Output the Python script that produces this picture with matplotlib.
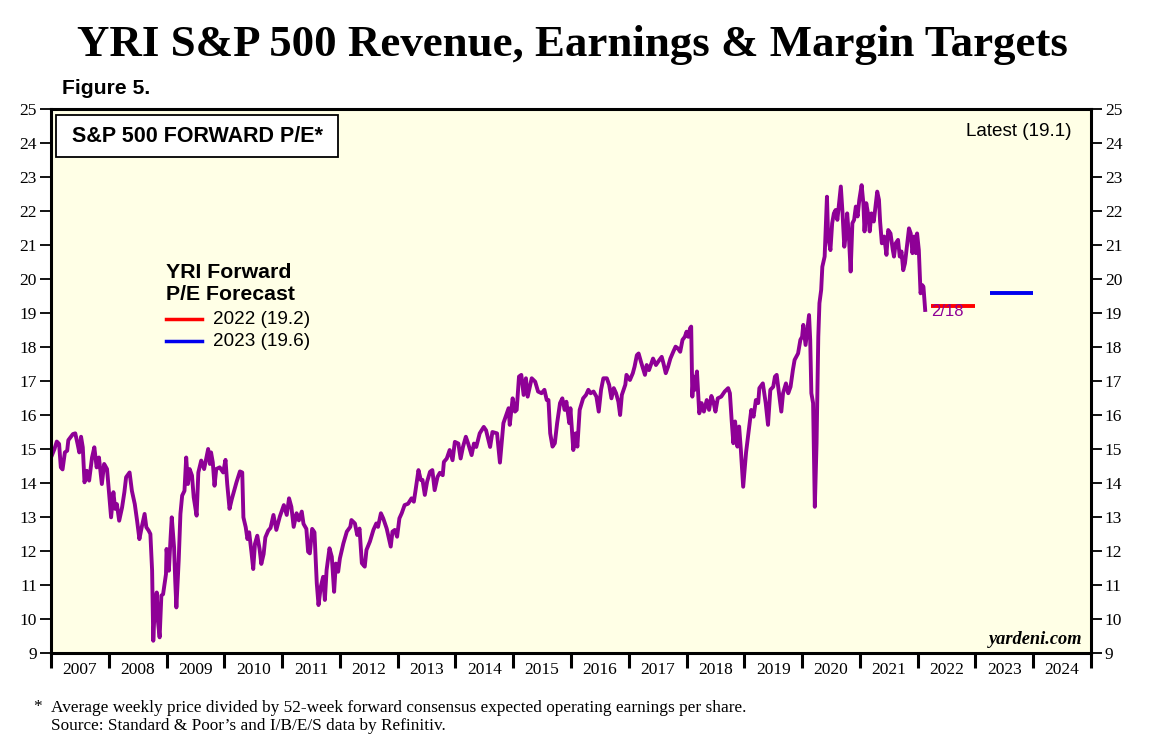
import matplotlib.pyplot as plt
from matplotlib.patches import Rectangle
import numpy as np

# weekly-ish S&P 500 forward P/E (decimal years)
dates = [
    2007.00, 2007.06, 2007.10, 2007.14, 2007.17, 2007.20, 2007.24, 2007.28, 2007.30, 2007.38,
    2007.42, 2007.46, 2007.49, 2007.52, 2007.55, 2007.58, 2007.62, 2007.66, 2007.71, 2007.75,
    2007.79, 2007.83, 2007.88, 2007.92, 2007.97, 2008.01, 2008.04, 2008.08, 2008.11, 2008.14,
    2008.18, 2008.23, 2008.27, 2008.30, 2008.36, 2008.40, 2008.45, 2008.49, 2008.53, 2008.57,
    2008.62, 2008.65, 2008.69, 2008.72, 2008.75, 2008.77, 2008.79, 2008.83, 2008.85, 2008.88,
    2008.91, 2008.94, 2008.99, 2009.00, 2009.04, 2009.07, 2009.09, 2009.13, 2009.15, 2009.17,
    2009.21, 2009.24, 2009.27, 2009.31, 2009.34, 2009.37, 2009.40, 2009.44, 2009.47, 2009.52,
    2009.55, 2009.60, 2009.65, 2009.69, 2009.72, 2009.75, 2009.77, 2009.80, 2009.83, 2009.86,
    2009.92, 2009.98, 2010.02, 2010.05, 2010.09, 2010.13, 2010.17, 2010.21, 2010.27, 2010.31,
    2010.33, 2010.37, 2010.40, 2010.43, 2010.47, 2010.50, 2010.53, 2010.57, 2010.61, 2010.64,
    2010.68, 2010.71, 2010.76, 2010.80, 2010.85, 2010.90, 2010.96, 2011.03, 2011.08, 2011.12,
    2011.16, 2011.20, 2011.25, 2011.29, 2011.34, 2011.37, 2011.42, 2011.45, 2011.48, 2011.52,
    2011.56, 2011.60, 2011.63, 2011.67, 2011.71, 2011.74, 2011.77, 2011.82, 2011.86, 2011.90,
    2011.93, 2011.97, 2012.00, 2012.06, 2012.12, 2012.18, 2012.20, 2012.26, 2012.30, 2012.34,
    2012.38, 2012.43, 2012.46, 2012.52, 2012.58, 2012.63, 2012.66, 2012.71, 2012.75, 2012.81,
    2012.88, 2012.91, 2012.95, 2012.99, 2013.03, 2013.07, 2013.12, 2013.18, 2013.24, 2013.28,
    2013.31, 2013.36, 2013.40, 2013.43, 2013.47, 2013.51, 2013.56, 2013.60, 2013.64, 2013.69,
    2013.73, 2013.78, 2013.80, 2013.85, 2013.90, 2013.95, 2013.99, 2014.05, 2014.09, 2014.13,
    2014.18, 2014.22, 2014.28, 2014.32, 2014.36, 2014.42, 2014.49, 2014.53, 2014.60, 2014.64,
    2014.72, 2014.77, 2014.80, 2014.83, 2014.89, 2014.92, 2014.94, 2014.99, 2015.03, 2015.06,
    2015.10, 2015.14, 2015.18, 2015.22, 2015.25, 2015.32, 2015.38, 2015.43, 2015.49, 2015.54,
    2015.58, 2015.61, 2015.64, 2015.68, 2015.72, 2015.76, 2015.81, 2015.85, 2015.89, 2015.92,
    2015.97, 2015.99, 2016.04, 2016.08, 2016.11, 2016.15, 2016.21, 2016.26, 2016.30, 2016.34,
    2016.39, 2016.44, 2016.48, 2016.52, 2016.56, 2016.62, 2016.66, 2016.70, 2016.74, 2016.78,
    2016.82, 2016.85, 2016.88, 2016.94, 2016.96, 2017.02, 2017.07, 2017.10, 2017.14, 2017.17,
    2017.21, 2017.28, 2017.31, 2017.35, 2017.39, 2017.42, 2017.47, 2017.53, 2017.57, 2017.60,
    2017.64, 2017.68, 2017.72, 2017.77, 2017.81, 2017.85, 2017.89, 2017.93, 2017.97, 2018.00,
    2018.03, 2018.06, 2018.08, 2018.10, 2018.12, 2018.14, 2018.18, 2018.22, 2018.26, 2018.30,
    2018.35, 2018.39, 2018.43, 2018.47, 2018.50, 2018.54, 2018.60, 2018.66, 2018.72, 2018.75,
    2018.78, 2018.81, 2018.84, 2018.88, 2018.91, 2018.94, 2018.98, 2019.03, 2019.07, 2019.12,
    2019.16, 2019.20, 2019.24, 2019.26, 2019.32, 2019.37, 2019.41, 2019.45, 2019.50, 2019.53,
    2019.56, 2019.60, 2019.64, 2019.67, 2019.72, 2019.76, 2019.80, 2019.84, 2019.87, 2019.93,
    2019.97, 2020.00, 2020.02, 2020.06, 2020.09, 2020.12, 2020.14, 2020.16, 2020.19, 2020.22,
    2020.25, 2020.28, 2020.30, 2020.33, 2020.35, 2020.39, 2020.41, 2020.43, 2020.45, 2020.49,
    2020.52, 2020.55, 2020.58, 2020.61, 2020.64, 2020.67, 2020.70, 2020.73, 2020.76, 2020.78,
    2020.81, 2020.84, 2020.87, 2020.90, 2020.93, 2020.96, 2020.99, 2021.03, 2021.06, 2021.08,
    2021.11, 2021.14, 2021.17, 2021.20, 2021.24, 2021.30, 2021.33, 2021.35, 2021.38, 2021.42,
    2021.46, 2021.49, 2021.53, 2021.57, 2021.59, 2021.62, 2021.66, 2021.69, 2021.72, 2021.75,
    2021.78, 2021.82, 2021.85, 2021.88, 2021.91, 2021.94, 2021.97, 2021.99, 2022.02, 2022.05,
    2022.08, 2022.10, 2022.13,
]
pe = [
    14.75, 15.00, 15.22, 15.15, 14.46, 14.40, 14.90, 14.95, 15.26, 15.44,
    15.46, 15.15, 14.90, 15.36, 15.05, 14.02, 14.36, 14.07, 14.75, 15.05,
    14.46, 14.75, 13.97, 14.56, 14.41, 13.58, 12.99, 13.73, 13.24, 13.38,
    12.89, 13.28, 13.73, 14.17, 14.31, 13.77, 13.38, 12.89, 12.35, 12.70,
    13.09, 12.70, 12.60, 12.50, 11.42, 9.36, 10.15, 10.78, 9.95, 9.46,
    10.69, 10.73, 11.32, 12.06, 11.42, 12.40, 12.99, 12.11, 11.13, 10.34,
    11.72, 13.09, 13.63, 13.77, 14.75, 13.97, 14.41, 14.22, 13.58, 13.04,
    14.31, 14.66, 14.41, 14.75, 15.00, 14.56, 14.90, 14.61, 13.92, 14.41,
    14.46, 14.31, 14.68, 13.97, 13.24, 13.53, 13.77, 14.02, 14.34, 14.31,
    12.99, 12.70, 12.35, 12.55, 11.96, 11.47, 12.21, 12.45, 12.06, 11.62,
    11.91, 12.40, 12.60, 12.68, 13.06, 12.62, 13.01, 13.35, 13.06, 13.55,
    13.30, 12.71, 13.11, 12.90, 13.16, 12.80, 12.65, 11.98, 11.93, 12.65,
    12.55, 11.05, 10.41, 10.95, 11.24, 10.56, 11.44, 12.08, 11.83, 10.80,
    11.63, 11.39, 11.78, 12.22, 12.57, 12.71, 12.91, 12.81, 12.47, 12.66,
    11.64, 11.54, 12.03, 12.28, 12.62, 12.81, 12.71, 13.11, 12.96, 12.66,
    12.13, 12.57, 12.62, 12.42, 12.96, 13.11, 13.35, 13.39, 13.55, 13.45,
    13.79, 14.38, 14.09, 14.09, 13.65, 14.04, 14.33, 14.38, 13.79, 14.18,
    14.30, 14.23, 14.62, 14.72, 14.97, 14.67, 15.21, 15.16, 14.72, 15.06,
    15.36, 15.16, 14.82, 15.16, 15.06, 15.46, 15.65, 15.55, 15.06, 15.50,
    15.46, 14.60, 15.17, 15.76, 16.05, 16.20, 15.71, 16.49, 16.10, 16.15,
    17.13, 17.18, 16.59, 17.08, 16.54, 17.08, 16.98, 16.69, 16.64, 16.74,
    16.44, 16.44, 15.46, 15.07, 15.17, 15.76, 16.35, 16.49, 16.15, 16.39,
    15.76, 16.20, 14.97, 15.46, 15.07, 16.15, 16.49, 16.59, 16.74, 16.64,
    16.69, 16.54, 16.10, 16.74, 17.08, 17.08, 16.89, 16.49, 16.79, 16.64,
    16.39, 16.00, 16.59, 16.89, 17.18, 17.03, 17.23, 17.42, 17.76, 17.81,
    17.57, 17.18, 17.47, 17.32, 17.52, 17.66, 17.47, 17.62, 17.71, 17.52,
    17.23, 17.42, 17.66, 17.86, 18.01, 17.96, 17.86, 18.21, 18.30, 18.45,
    18.30, 18.55, 18.60, 16.54, 17.13, 16.74, 17.28, 16.05, 16.35, 16.10,
    16.44, 16.15, 16.56, 16.35, 16.10, 16.49, 16.54, 16.69, 16.79, 16.64,
    15.86, 15.17, 15.81, 15.07, 15.66, 14.97, 13.89, 14.90, 15.46, 16.15,
    15.95, 16.44, 16.35, 16.79, 16.93, 16.35, 15.71, 16.74, 16.83, 17.13,
    17.18, 16.64, 16.10, 16.64, 16.93, 16.64, 16.83, 17.32, 17.62, 17.81,
    18.21, 18.30, 18.65, 18.06, 18.50, 18.94, 18.21, 16.64, 16.35, 13.30,
    15.17, 18.30, 19.29, 19.68, 20.36, 20.66, 21.54, 22.42, 21.25, 20.85,
    21.64, 21.93, 22.03, 21.74, 22.23, 22.72, 21.93, 20.95, 21.34, 21.93,
    21.25, 20.22, 21.64, 21.74, 22.13, 21.84, 22.33, 22.76, 22.23, 21.40,
    22.23, 21.93, 21.40, 21.93, 21.69, 22.57, 22.33, 21.69, 21.05, 21.25,
    20.71, 21.44, 21.34, 20.85, 20.66, 21.05, 21.15, 20.66, 20.81, 20.26,
    20.46, 21.05, 21.49, 21.34, 20.76, 21.25, 20.76, 21.34, 20.85, 19.58,
    19.82, 19.77, 19.09,
]

# YRI forecasts
forecast_labels = ['2022 (19.2)', '2023 (19.6)']
forecast_values = [19.2, 19.6]
forecast_spans = [(2022.23, 2023.0), (2023.25, 2024.0)]
forecast_colors = ['#ff0000', '#0000ee']

years = list(range(2007, 2025))
yticks = list(range(9, 26))

purple = '#8e0096'

fig = plt.figure(figsize=(11.51, 7.44), dpi=100)
ax = fig.add_axes([51/1151, 1 - 653/744, 1040/1151, 544/744])
ax.set_facecolor('#ffffe6')

ax.plot(dates, pe, color=purple, lw=2.8, solid_joinstyle='round')
for (x0, x1), v, c in zip(forecast_spans, forecast_values, forecast_colors):
    ax.plot([x0, x1], [v, v], color=c, lw=2.8, solid_capstyle='butt')

ax.text(dates[-1] + 0.1, pe[-1] - 0.05, '2/18', color=purple, fontsize=12,
        ha='left', va='center', family='Liberation Sans')

ax.set_xlim(2007, 2025)
ax.set_ylim(9, 25)

# x axis: year boundaries as ticks, labels centred in each year
ax.set_xticks(range(2007, 2026))
ax.set_xticklabels([])
ax.set_xticks([y + 0.5 for y in years], minor=True)
ax.set_xticklabels([str(y) for y in years], minor=True,
                   family='Liberation Serif', fontsize=12.5)
ax.tick_params(axis='x', which='major', direction='out', length=11, width=2.2)
ax.tick_params(axis='x', which='minor', length=0, pad=6.5)

ax.set_yticks(yticks)
ax.set_yticklabels([str(t) for t in yticks], family='Liberation Serif', fontsize=12.5)
ax.tick_params(axis='y', which='both', direction='out', length=8, width=1.3,
               left=True, right=True, labelleft=True, labelright=True, pad=2)

for s in ax.spines.values():
    s.set_linewidth(2.2)

# title box
ax.add_patch(Rectangle((5/1040, (653-157)/544), 282/1040, 42/544,
                       transform=ax.transAxes, facecolor='white',
                       edgecolor='black', lw=1.3, zorder=5))
ax.text((197-51)/1040, (653-136)/544, 'S&P 500 FORWARD P/E*',
        transform=ax.transAxes, ha='center', va='center', fontsize=15.5,
        fontweight='bold', family='Liberation Sans', zorder=6)

ax.text((1072-51)/1040, (653-132)/544, 'Latest (19.1)', transform=ax.transAxes,
        ha='right', va='center', fontsize=13.6, family='Liberation Sans')

# forecast legend
ax.text((166-51)/1040, (653-272)/544, 'YRI Forward', transform=ax.transAxes,
        ha='left', va='center', fontsize=15.3, fontweight='bold', family='Liberation Sans')
ax.text((166-51)/1040, (653-294)/544, 'P/E Forecast', transform=ax.transAxes,
        ha='left', va='center', fontsize=15.3, fontweight='bold', family='Liberation Sans')
for i, (lab, c) in enumerate(zip(forecast_labels, forecast_colors)):
    yy = (653 - 319 - 22*i)/544
    ax.plot([(166-51)/1040, (202-51)/1040], [yy, yy], transform=ax.transAxes,
            color=c, lw=2.5)
    ax.text((213-51)/1040, yy, lab, transform=ax.transAxes, ha='left', va='center',
            fontsize=13.6, family='Liberation Sans')

ax.text((1082-51)/1040, (653-640)/544, 'yardeni.com', transform=ax.transAxes,
        ha='right', va='center', fontsize=13.2, fontweight='bold', style='italic',
        family='Liberation Serif')

fig.text(572/1151, 1 - 45/744, 'YRI S&P 500 Revenue, Earnings & Margin Targets',
         ha='center', va='center', fontsize=32.3, fontweight='bold', family='Liberation Serif')
fig.text(62/1151, 1 - 88/744, 'Figure 5.', ha='left', va='center', fontsize=15.2,
         fontweight='bold', family='Liberation Sans')

fig.text(33/1151, 1 - 707/744, '*', ha='left', va='center', fontsize=12.4,
         family='Liberation Serif')
fig.text(51/1151, 1 - 708/744,
         'Average weekly price divided by 52-week forward consensus expected operating earnings per share.',
         ha='left', va='center', fontsize=12.4, family='Liberation Serif')
fig.text(51/1151, 1 - 726/744, 'Source: Standard & Poor\u2019s and I/B/E/S data by Refinitiv.',
         ha='left', va='center', fontsize=12.4, family='Liberation Serif')

fig.savefig('out.png', dpi=100)
